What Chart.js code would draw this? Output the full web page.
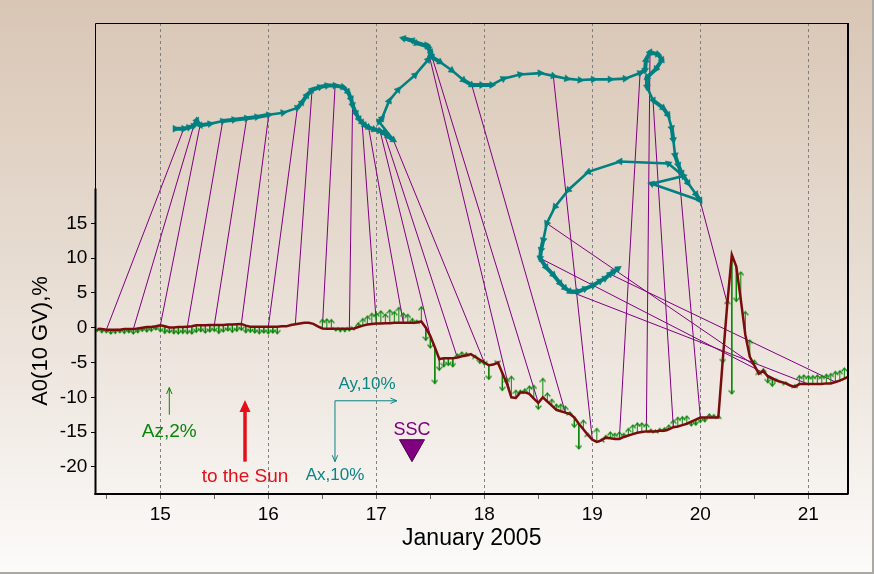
<!DOCTYPE html>
<html><head><meta charset="utf-8">
<script src="https://cdn.jsdelivr.net/npm/chart.js@4.4.1/dist/chart.umd.min.js"></script>
<style>html,body{margin:0;padding:0;background:#fff;overflow:hidden}</style>
</head><body>
<canvas id="c" width="874" height="574"></canvas>
<script>
// ---------- DATA ----------
// A0(10 GV) hourly, % ; one array per day of January 2005
const a0Days = [14, 15, 16, 17, 18, 19, 20, 21];
const a0FirstHour = [10, 0, 0, 0, 0, 0, 0, 0];
const a0Jan14 = [-0.2,-0.2,-0.3,-0.3,-0.3,-0.3,-0.2,-0.2,-0.2,-0.1,0.0,0.1,0.1,0.2];
const a0Jan15 = [0.35,0.2,0.05,0.05,0.1,0.1,0.15,0.2,0.35,0.35,0.35,0.4,0.4,0.4,0.4,0.45,0.45,0.5,0.55,0.3,0.15,0.15,0.15,0.15];
const a0Jan16 = [0.15,0.15,0.15,0.2,0.2,0.4,0.5,0.6,0.7,0.7,0.55,0.2,-0.1,-0.15,-0.15,-0.15,-0.15,-0.15,-0.15,-0.1,0.1,0.3,0.45,0.55];
const a0Jan17 = [0.6,0.6,0.65,0.65,0.7,0.7,0.7,0.7,0.7,0.75,0.9,0.0,-1.2,-2.8,-4.5,-4.4,-4.4,-4.4,-4.3,-4.1,-4.0,-3.8,-4.2,-4.6];
const a0Jan18 = [-5.0,-5.4,-5.3,-5.0,-6.5,-8.0,-10.0,-10.1,-9.3,-9.3,-9.5,-10.2,-10.8,-10.0,-10.6,-11.2,-11.8,-12.0,-12.2,-12.4,-12.9,-13.8,-14.6,-15.4];
const a0Jan19 = [-16.1,-16.4,-16.2,-15.8,-15.9,-16.0,-16.0,-15.7,-15.5,-15.3,-15.1,-15.0,-14.9,-14.9,-14.9,-14.8,-14.8,-14.6,-14.3,-14.2,-14.0,-13.8,-13.5,-13.2];
const a0Jan20 = [-12.9,-12.9,-12.9,-12.9,-12.9,-4.5,3.5,10.5,8.8,4.0,-1.0,-4.2,-5.4,-6.6,-6.2,-7.0,-7.3,-7.6,-7.8,-8.0,-8.3,-8.5,-8.1,-8.1];
const a0Jan21 = [-8.1,-8.1,-8.1,-8.1,-8.0,-8.0,-7.8,-7.6,-7.3,-7.0];

// Az component (arrow length, % on the A0 axis), same hours
const azJan14 = [-0.3,-0.5,-0.4,-0.6,-0.5,-0.4,-0.6,-0.5,-0.7,-0.6,-0.5,-0.7,-0.6,-0.5];
const azJan15 = [-0.9,-1.0,-0.8,-0.9,-1.0,-0.9,-1.0,-1.1,-1.0,-0.9,-1.1,-1.0,-0.9,-1.2,-1.0,-0.9,-1.1,-1.0,-0.9,-1.0,-0.8,-0.9,-1.0,-0.9];
const azJan16 = [-1.0,-0.9,-1.0,0,0,0,0,0,0,0,0,0,1.3,1.4,1.3,-0.3,-0.4,-0.4,-0.3,-0.2,0.6,1.0,1.2,1.5];
const azJan17 = [1.5,1.8,1.3,1.9,1.6,2.2,1.4,1.2,0.6,0.3,2.1,-1.8,-1.7,-5.2,-1.6,-1.2,-1.0,-1.2,0.5,0.6,0.4,0,0.2,-0.5];
const azJan18 = [-0.3,-2.0,0,-0.2,-2.5,0.7,3.0,1.1,0.3,0.5,1.1,1.9,-0.9,2.7,1.2,0.9,0.8,1.0,0.9,0.3,-1.4,-3.6,1.3,0.2];
const azJan19 = [0,1.9,0.2,0.3,0.9,0.8,1.0,0.5,1.0,1.3,1.4,1.3,1.1,0.3,0.2,0.3,0.4,0.6,1.0,1.3,1.2,1.1,-0.6,-0.8];
const azJan20 = [-0.7,-0.6,0.5,0.4,0.3,-0.5,0.4,-20.0,-5.0,4.0,3.3,2.4,0.7,0.3,0.3,-0.9,-1.1,0.2,0.1,0.2,0.1,0.3,1.2,1.3];
const azJan21 = [1.2,1.2,1.3,1.2,1.3,1.4,1.5,1.4,1.5,1.5];

// Vector (Ax,Ay) diagram path, placed in chart coordinates, with its time (day of Jan)
const trajT = [14.417,14.5,14.625,14.75,14.875,15.0,15.125,15.25,15.375,15.5,15.625,15.75,15.875,16.0,16.083,16.167,16.25,16.333,16.417,16.5,16.583,16.667,16.708,16.75,16.833,16.917,17.0,17.125,17.25,17.375,17.5,17.75,17.875,18.0,18.021,18.063,18.104,18.146,18.188,18.208,18.229,18.25,18.333,18.375,18.417,18.458,18.5,18.542,18.583,18.667,18.75,18.792,18.833,18.875,18.917,18.958,19.0,19.042,19.083,19.125,19.167,19.208,19.25,19.333,19.417,19.5,19.542,19.583,19.625,19.667,19.708,19.75,19.792,19.833,19.875,19.917,19.958,20.0,20.042,20.125,20.208,20.25,20.292,20.313,20.333,20.375,20.417,20.458,20.479,20.5,20.583,20.667,20.75,20.792,20.833,20.875,20.917,21.0,21.042,21.083,21.125,21.167,21.208,21.25,21.292,21.333];
const trajX = [15.136,15.217,15.266,15.309,15.337,15.368,15.460,15.578,15.682,15.800,
15.895,16.004,16.136,16.269,16.312,16.356,16.405,16.479,16.544,16.618,
16.692,16.738,16.766,16.780,16.812,16.840,16.868,16.895,16.928,16.979,
17.034,17.071,17.108,17.157,17.025,17.053,17.118,17.201,17.358,17.479,
17.506,17.467,17.331,17.250,17.374,17.481,17.516,17.590,17.698,17.806,
17.883,17.976,18.069,18.176,18.331,18.516,18.639,18.763,18.886,19.009,
19.164,19.303,19.442,19.488,19.497,19.534,19.608,19.645,19.590,19.506,
19.506,19.562,19.655,19.701,19.735,19.750,19.766,19.796,19.828,19.886,
19.960,19.997,19.550,19.843,19.704,19.256,18.963,18.778,18.655,18.578,
18.546,18.525,18.516,18.571,18.639,18.701,18.747,18.794,18.870,18.932,
19.009,19.071,19.118,19.164,19.201,19.238];
const trajY = [28.6,28.6,28.8,29.0,29.8,29.1,29.3,29.7,29.9,30.1,
30.3,30.6,30.9,31.6,32.4,33.4,34.2,34.6,34.8,34.8,
34.6,33.9,32.9,32.0,30.8,30.0,29.5,29.1,28.8,28.5,
28.3,28.0,27.5,27.0,29.6,30.1,32.6,34.2,36.3,38.5,
39.6,40.6,41.3,41.6,40.9,40.4,38.9,38.2,37.0,35.6,
34.9,34.9,34.9,35.8,36.4,36.6,36.2,35.8,35.6,35.7,
35.7,35.8,36.6,37.0,38.5,39.6,39.3,38.5,37.2,36.0,
34.6,32.7,31.6,30.6,28.7,27.0,24.8,23.4,22.2,20.8,
19.2,18.3,20.7,21.8,23.6,23.9,22.4,19.8,17.4,15.0,
12.6,11.2,10.0,8.7,7.6,6.4,5.7,5.2,5.2,5.6,
6.1,6.7,7.1,7.7,8.1,8.5];

// times where A0 is linked to the vector diagram
const linkTimes = [14.5,14.75,15.0,15.25,15.5,15.75,16.0,16.25,16.5,16.75,17.0,17.25,17.5,17.75,18.0,18.25,18.5,18.75,19.0,19.25,19.5,19.75,20.0,20.25,20.5,20.75,21.0,21.25];

const sscTime = 17.33;
const xTickValues = [15, 16, 17, 18, 19, 20, 21];
const xMinorTicks = [14.5, 15.5, 16.5, 17.5, 18.5, 19.5, 20.5];
const yTickValues = [-20, -15, -10, -5, 0, 5, 10, 15];

// ---------- BUILD ----------
const a0Series = [a0Jan14,a0Jan15,a0Jan16,a0Jan17,a0Jan18,a0Jan19,a0Jan20,a0Jan21];
const azSeries = [azJan14,azJan15,azJan16,azJan17,azJan18,azJan19,azJan20,azJan21];
const a0Pts = [], azPts = [];
a0Days.forEach((d, k) => {
  a0Series[k].forEach((v, h) => {
    const t = d + (a0FirstHour[k] + h) / 24;
    a0Pts.push({x: t, y: v});
    const a = azSeries[k][h];
    if (Math.abs(a) >= 0.15) {
      azPts.push({x: t, y: v}, {x: t, y: v + a, tip: true, dn: a < 0}, {x: t, y: null});
    }
  });
});
const trajPts = trajT.map((t, i) => ({x: trajX[i], y: trajY[i]}));
const linkPts = [];
linkTimes.forEach(t => {
  const p = a0Pts.find(q => Math.abs(q.x - t) < 1e-6);
  const i = trajT.findIndex(s => Math.abs(s - t) < 0.003);
  if (p && i >= 0) linkPts.push({x: p.x, y: p.y}, {x: trajX[i], y: trajY[i]}, {x: t, y: null});
});

// ---------- STYLE ----------
const FONT = '"Liberation Sans", Arial, sans-serif';
const chevron = (() => {
  const c = document.createElement('canvas'); c.width = 7; c.height = 10;
  const g = c.getContext('2d'); g.strokeStyle = '#0b850b'; g.lineWidth = 1.2;
  g.beginPath(); g.moveTo(0.6, 8.4); g.lineTo(3.5, 5); g.lineTo(6.4, 8.4); g.stroke();
  return c;
})();

function trajRot(ctx) {
  if (ctx.dataIndex === undefined) return 0;
  const i = ctx.dataIndex, xs = ctx.chart.scales.x, ys = ctx.chart.scales.y;
  const j = i > 0 ? i - 1 : 0, k = i > 0 ? i : 1;
  const dx = xs.getPixelForValue(trajX[k]) - xs.getPixelForValue(trajX[j]);
  const dy = ys.getPixelForValue(trajY[k]) - ys.getPixelForValue(trajY[j]);
  return Math.atan2(dy, dx) * 180 / Math.PI + 90;
}
function segWidth(ctx) {
  const d = Math.hypot(ctx.p1.x - ctx.p0.x, ctx.p1.y - ctx.p0.y);
  return d < 13 ? 4 : 2.6;
}

const notes = {
  az: {x: 15.083, from: -12.5, to: -8.6, textY: -14.95, text: 'Az,2%'},
  sun: {x: 15.784, from: -19.25, to: -10.4, textY: -21.45, text: 'to the Sun'},
  axes: {x: 16.617, y: -10.5, ayEnd: 17.19, axEnd: -19.25, ayText: [16.914, -8.1], axText: [16.617, -21.2]},
  ssc: {top: -16.1, tip: -19.25, textY: -14.7, text: 'SSC'}
};

function openHead(ctx, x, y, ang, len, spread) {
  ctx.beginPath();
  ctx.moveTo(x - len * Math.cos(ang - spread), y - len * Math.sin(ang - spread));
  ctx.lineTo(x, y);
  ctx.lineTo(x - len * Math.cos(ang + spread), y - len * Math.sin(ang + spread));
  ctx.stroke();
}

const deco = {
  id: 'deco',
  beforeDraw(chart) {
    const {ctx, width, height} = chart;
    const g = ctx.createLinearGradient(0, 0, 0, height);
    g.addColorStop(0, '#d9c6b5'); g.addColorStop(0.5, '#e8ded4'); g.addColorStop(1, '#fcfbfa');
    ctx.save(); ctx.fillStyle = g; ctx.fillRect(0, 0, width, height);
    ctx.fillStyle = '#aaa9a4'; ctx.fillRect(0, height - 2, width, 2); ctx.fillRect(width - 2, 0, 2, height);
    ctx.restore();
  },
  afterDatasetsDraw(chart) {
    const {ctx} = chart, X = v => chart.scales.x.getPixelForValue(v), Y = v => chart.scales.y.getPixelForValue(v);
    ctx.save();
    ctx.textAlign = 'center'; ctx.textBaseline = 'middle';
    // Az scale arrow
    const az = notes.az;
    ctx.strokeStyle = '#0b850b'; ctx.lineWidth = 1;
    ctx.beginPath(); ctx.moveTo(X(az.x), Y(az.from)); ctx.lineTo(X(az.x), Y(az.to)); ctx.stroke();
    openHead(ctx, X(az.x), Y(az.to), -Math.PI / 2, 7, 0.4);
    ctx.fillStyle = '#0b850b'; ctx.font = '19px ' + FONT; ctx.fillText(az.text, X(az.x), Y(az.textY));
    // to the Sun
    const s = notes.sun, sx = X(s.x), sy1 = Y(s.to);
    ctx.strokeStyle = '#e3101a'; ctx.fillStyle = '#e3101a'; ctx.lineWidth = 3.5;
    ctx.beginPath(); ctx.moveTo(sx, Y(s.from)); ctx.lineTo(sx, sy1 + 8); ctx.stroke();
    ctx.beginPath(); ctx.moveTo(sx, sy1); ctx.lineTo(sx - 5.5, sy1 + 12); ctx.lineTo(sx + 5.5, sy1 + 12); ctx.closePath(); ctx.fill();
    ctx.font = '19px ' + FONT; ctx.fillText(s.text, sx, Y(s.textY));
    // Ax / Ay axes
    const a = notes.axes, ax0 = X(a.x), ay0 = Y(a.y);
    ctx.strokeStyle = '#0a8585'; ctx.fillStyle = '#0a8585'; ctx.lineWidth = 1;
    ctx.beginPath(); ctx.moveTo(X(a.ayEnd), ay0); ctx.lineTo(ax0, ay0); ctx.lineTo(ax0, Y(a.axEnd)); ctx.stroke();
    openHead(ctx, X(a.ayEnd), ay0, 0, 7, 0.4);
    openHead(ctx, ax0, Y(a.axEnd), Math.PI / 2, 7, 0.4);
    ctx.font = '17px ' + FONT;
    ctx.fillText('Ay,10%', X(a.ayText[0]), Y(a.ayText[1]));
    ctx.fillText('Ax,10%', X(a.axText[0]), Y(a.axText[1]));
    // SSC marker
    const c = notes.ssc, cx = X(sscTime);
    ctx.fillStyle = '#800080'; ctx.strokeStyle = '#4a004a'; ctx.lineWidth = 1;
    ctx.beginPath(); ctx.moveTo(cx - 12.5, Y(c.top)); ctx.lineTo(cx + 12.5, Y(c.top)); ctx.lineTo(cx, Y(c.tip)); ctx.closePath(); ctx.fill(); ctx.stroke();
    ctx.font = '18px ' + FONT; ctx.fillText(c.text, cx, Y(c.textY));
    ctx.restore();
  },
  afterDraw(chart) {
    const {ctx} = chart, {left, right, top, bottom} = chart.chartArea;
    const y20 = chart.scales.y.getPixelForValue(20);
    ctx.save();
    ctx.strokeStyle = '#000'; ctx.lineWidth = 1;
    ctx.beginPath(); ctx.moveTo(left + 0.5, bottom); ctx.lineTo(left + 0.5, top + 0.5); ctx.lineTo(right - 0.5, top + 0.5); ctx.lineTo(right - 0.5, bottom); ctx.stroke();
    ctx.lineWidth = 2;
    ctx.beginPath(); ctx.moveTo(left + 0.5, y20); ctx.lineTo(left + 0.5, bottom + 1); ctx.stroke();
    ctx.beginPath(); ctx.moveTo(left - 0.5, bottom); ctx.lineTo(right, bottom); ctx.stroke();
    ctx.beginPath(); ctx.moveTo(right - 0.5, top); ctx.lineTo(right - 0.5, bottom); ctx.stroke();
    // y-axis title
    ctx.translate(41, 341); ctx.rotate(-Math.PI / 2);
    ctx.fillStyle = '#000'; ctx.font = '22px ' + FONT; ctx.textAlign = 'center'; ctx.textBaseline = 'middle';
    ctx.fillText('A0(10 GV),%', 0, 0);
    ctx.restore();
  }
};

new Chart(document.getElementById('c'), {
  type: 'scatter',
  data: {
    datasets: [
      {data: trajPts, showLine: true, borderColor: '#008080', borderWidth: 2.6, pointStyle: 'triangle',
       pointRadius: 4, pointBackgroundColor: '#008080', pointBorderColor: '#008080', pointBorderWidth: 0.5,
       pointRotation: trajRot, segment: {borderWidth: segWidth}, order: 1},
      {data: a0Pts, showLine: true, borderColor: '#7a0c0c', borderWidth: 2.5, pointRadius: 0, order: 2},
      {data: azPts, showLine: true, borderColor: '#0b850b', borderWidth: 1, pointStyle: chevron,
       pointRadius: c => (c.raw && c.raw.tip ? 3 : 0), pointRotation: c => (c.raw && c.raw.dn ? 180 : 0), order: 3},
      {data: linkPts, showLine: true, borderColor: '#800080', borderWidth: 1, pointRadius: 0, order: 4}
    ]
  },
  options: {
    responsive: false, animation: false, devicePixelRatio: 1, events: [],
    layout: {padding: {left: 0, right: 25.5, top: 23, bottom: 0}},
    plugins: {legend: {display: false}, tooltip: {enabled: false}},
    scales: {
      x: {
        type: 'linear', min: 14.395, max: 21.372, bounds: 'data',
        afterBuildTicks: s => { s.ticks = xMinorTicks.concat(xTickValues).sort((p, q) => p - q).map(v => ({value: v})); },
        ticks: {autoSkip: false, maxRotation: 0, padding: 4.5, color: '#000', font: {size: 19, family: FONT},
          callback: v => (xTickValues.includes(v) ? String(v) : '')},
        grid: {color: c => (c.tick && xTickValues.includes(c.tick.value) ? '#808080' : 'rgba(0,0,0,0)'),
          tickColor: '#666', tickLength: 5, lineWidth: 1},
        border: {display: false, dash: [3, 3]},
        title: {display: true, text: 'January 2005', color: '#000', font: {size: 23, family: FONT}, padding: {top: 0, bottom: 22}},
        afterFit: s => { s.height = 80; s.paddingLeft = 0; s.paddingRight = 0; }
      },
      y: {
        type: 'linear', min: -23.9, max: 43.8, bounds: 'data',
        afterBuildTicks: s => { s.ticks = yTickValues.map(v => ({value: v})); },
        ticks: {padding: 3.7, color: '#000', font: {size: 19, family: FONT}, callback: v => String(v)},
        grid: {drawOnChartArea: false, tickLength: 4, tickColor: '#000'},
        border: {display: false},
        afterFit: s => { s.width = 95; s.paddingTop = 0; s.paddingBottom = 0; }
      }
    }
  },
  plugins: [deco]
});
</script>
</body></html>
